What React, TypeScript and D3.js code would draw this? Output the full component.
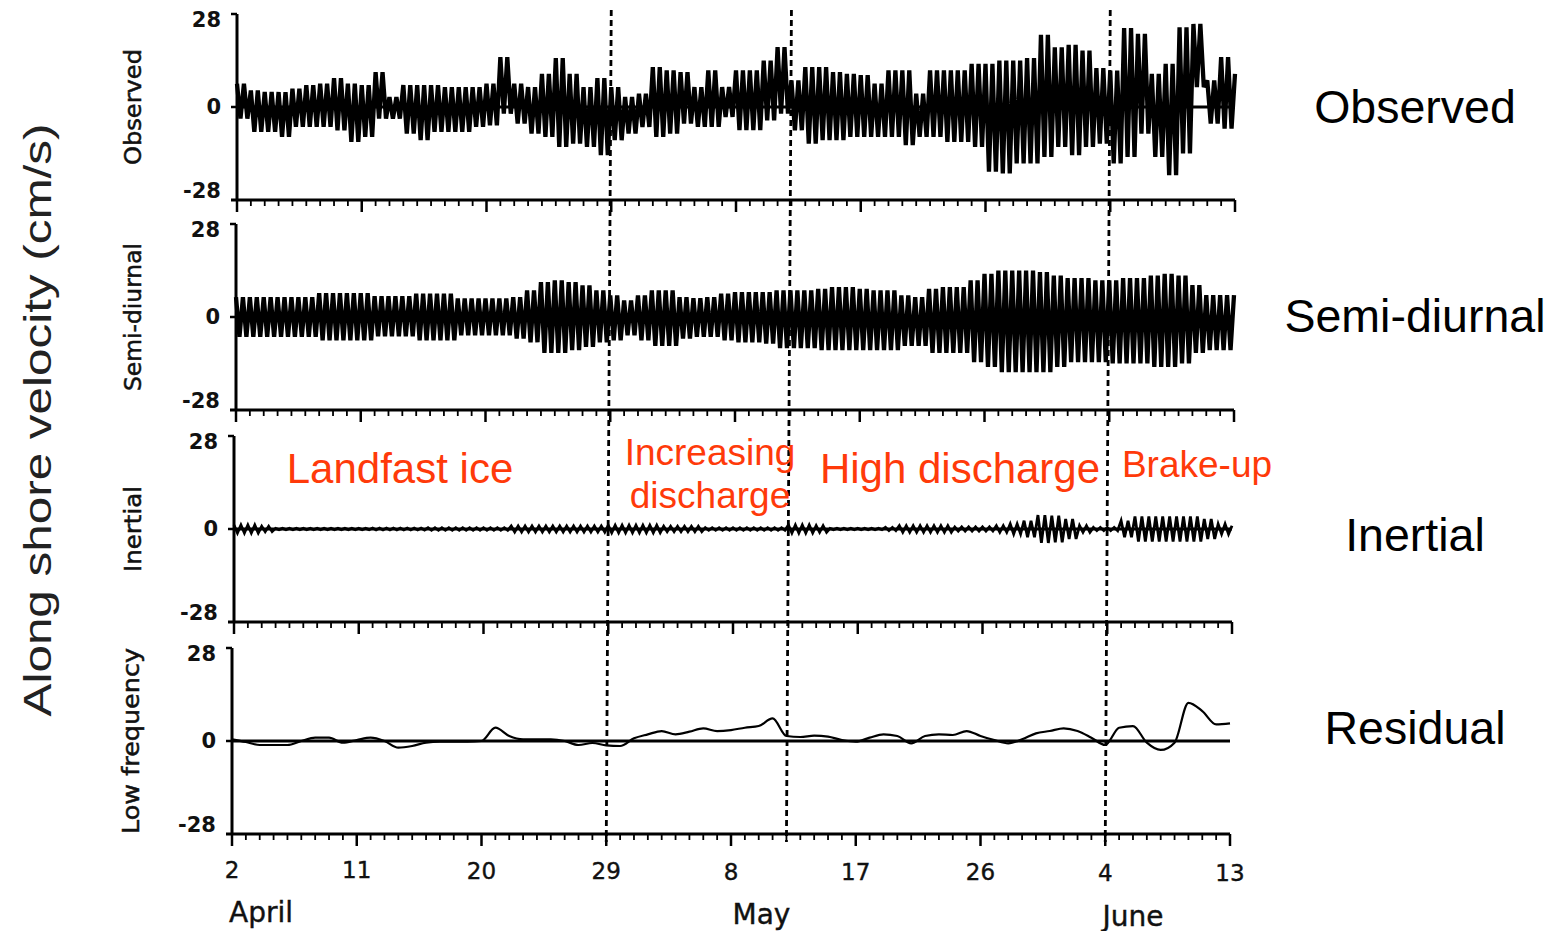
import React from 'react';
import * as d3 from 'd3';

// Days since April 2 (0 = Apr 2, 72 = Jun 13)
const days = d3.range(0, 73);
const tickDays = [0, 9, 18, 27, 36, 45, 54, 63, 72];
const tickLabels = ['2', '11', '20', '29', '8', '17', '26', '4', '13'];
const monthNames = ['April', 'May', 'June'];
const monthDays = [2.1, 38.2, 65];
const phaseBounds = [27, 40, 63];

// Observed: daily max / min of the tidal strokes (cm/s)
const observedHigh = [7, 5, 4.5, 4.5, 5.5, 6.6, 7, 8.7, 7, 6.6, 10.5, 3, 6.6, 6.6, 6.6, 6, 6, 6, 7, 15,
  7, 6, 10, 14.7, 10, 6, 8.7, 6, 3, 4, 12, 11, 10.5, 6, 11, 6, 11, 11, 14, 18,
  8, 12, 12, 10.5, 10, 9.6, 7, 11, 11, 4, 11, 11, 11, 13, 13, 14, 14, 14.7, 21.7, 18,
  18.7, 17, 11.7, 11, 23.8, 22, 10, 13, 24, 25, 8, 15, 10];
const observedLow = [-3.5, -7.5, -7.5, -9, -6, -6, -6, -7, -10.5, -9, -3.5, -3.5, -8, -10, -7.5, -7.5, -7.5, -6, -5.5, -2,
  -5, -8, -9, -12, -11, -12, -14.5, -10, -8, -6, -9, -8, -5, -6, -6, -3, -7, -7, -4, -2,
  -7, -11, -10, -10, -9, -9, -9, -9, -11.5, -9, -9, -10.5, -10.5, -12, -19.5, -20, -17, -17, -15, -12,
  -14.5, -12, -11, -17, -15, -8, -15, -20.5, -14, 6, -5, -6.5, -2];

// Semi-diurnal envelope
const semiHigh = [6, 6, 6, 6, 6, 6, 7.2, 7.2, 7.2, 7.2, 6.3, 6.3, 6.3, 7, 7, 7, 5.6, 5.6, 5.6, 5.6,
  6, 8, 10.5, 11, 10.5, 9.5, 8, 6.5, 5, 6.5, 8, 8, 6, 5.7, 6, 7, 7.5, 7.5, 7.5, 8,
  8, 8, 8.5, 9, 9, 8.5, 8, 8, 6.5, 6, 8.5, 9, 9, 11, 13, 14, 14, 14, 13.5, 12.5,
  11.7, 11.7, 11, 11, 11.7, 11.7, 12.5, 13, 12.5, 9.6, 6.6, 6.6, 6.6];
const semiLow = [-6, -6, -6, -6, -6, -6, -7, -7, -7, -7, -5.8, -5.8, -5.8, -7, -7, -7, -5.5, -5.5, -5.5, -5.5,
  -6.5, -7.6, -10.8, -10.8, -10, -9, -7.6, -7, -5.5, -7, -8.7, -8.7, -6.5, -6, -6, -7, -7.6, -7.6, -8, -9.4,
  -9.4, -9.4, -10, -10, -10, -10, -10, -10, -8.7, -8.7, -10.8, -10.8, -10.8, -13.6, -15, -16.6, -16.6, -16.6, -16.6, -15,
  -13.6, -13.6, -13.6, -14, -14, -14, -15, -15, -14, -10.8, -10, -10, -10];

// Inertial envelope (amplitude)
const inertialAmp = [1.2, 1.2, 0.8, 0.2, 0.2, 0.2, 0.2, 0.2, 0.2, 0.2, 0.3, 0.3, 0.3, 0.3, 0.4, 0.4, 0.4, 0.4, 0.4, 0.4,
  0.9, 0.9, 0.9, 0.9, 0.9, 0.9, 0.9, 1.1, 1.1, 1.1, 1.1, 0.8, 0.8, 0.8, 0.4, 0.4, 0.4, 0.4, 0.4, 0.4,
  1.2, 1.2, 1.0, 0.2, 0.2, 0.2, 0.2, 0.5, 1.0, 1.0, 1.0, 1.0, 0.6, 0.6, 0.6, 1.0, 1.5, 2.5, 4.2, 4.0,
  3.0, 1.0, 0.5, 0.5, 2.5, 3.8, 3.8, 3.8, 3.8, 3.8, 3.0, 1.5, 1.0];

// Low-frequency residual
const residual = [0.5, -0.3, -1.2, -1.2, -1.2, 0, 1, 1, -0.5, 0.3, 1, 0, -2, -1.5, -0.5, -0.2, -0.2, -0.2, 0, 4,
  1.5, 0.5, 0.5, 0.5, 0, -1.2, -0.6, -1.3, -1.5, 0.8, 2, 3, 2, 2.8, 3.8, 3, 3.3, 4, 4.5, 6.8,
  1.5, 1.2, 1.6, 1.3, 0.3, -0.2, 1, 2, 1.5, -0.7, 1.5, 2, 1.8, 3, 1.5, 0.3, -0.7, 0.5, 2.3, 3,
  3.8, 3, 1, -1.2, 4, 4.5, -0.5, -2.7, -0.5, 11.5, 9, 5, 5.3];

const yTickValues = [28, 0, -28];
const panelNames = ['Observed', 'Semi-diurnal', 'Inertial', 'Low  frequency'];
const rightNames = ['Observed', 'Semi-diurnal', 'Inertial', 'Residual'];

const PW = 998;
const PH = 186;
const layout = [
  { top: 14, left: 237 },
  { top: 224, left: 236 },
  { top: 436, left: 234 },
  { top: 648, left: 232 },
];
const nameLen = [116, 148, 86, 186];
const nameX = [133, 133, 133, 131];
const rightBaseline = [123, 332, 551, 744];

const RED = '#ff3a0a';

function tidePoints(hi: number[], lo: number[]): [number, number][] {
  const pts: [number, number][] = [];
  for (let i = 0; i < hi.length - 1; i++) {
    pts.push([i, hi[i]], [i + 0.25, lo[i]], [i + 0.5, hi[i]], [i + 0.75, lo[i]]);
  }
  pts.push([hi.length - 1, hi[hi.length - 1]]);
  return pts;
}

export default function App() {
  const xs = layout.map(p => d3.scaleLinear().domain([0, 72]).range([p.left, p.left + PW]));
  const ys = layout.map(p => d3.scaleLinear().domain([-28, 28]).range([p.top + PH, p.top]));

  const mkLine = (i: number) =>
    d3.line<[number, number]>().x(d => xs[i](d[0])).y(d => ys[i](d[1]));

  const obsPath = mkLine(0)(tidePoints(observedHigh, observedLow)) || '';
  const semiPath = mkLine(1)(tidePoints(semiHigh, semiLow)) || '';
  const inPath = mkLine(2)(tidePoints(inertialAmp, inertialAmp.map(v => -v))) || '';
  const resPath = d3.line<number>()
    .x((_, i) => xs[3](days[i]))
    .y(d => ys[3](d))
    .curve(d3.curveMonotoneX)(residual) || '';

  const axisFont = '"DejaVu Sans", sans-serif';
  const arial = '"Liberation Sans", Arial, sans-serif';

  return (
    <svg width={1560} height={931} viewBox="0 0 1560 931"
      style={{ position: 'absolute', left: 0, top: 0, background: '#fff' }}>
      <rect x={0} y={0} width={1560} height={931} fill="#fff" />

      {/* big left label */}
      <text transform="translate(38,420) rotate(-90)" textAnchor="middle" dominantBaseline="central"
        fontFamily={arial} fontSize={38} fill="#222" textLength={593} lengthAdjust="spacingAndGlyphs">
        Along shore velocity (cm/s)
      </text>

      {/* series */}
      <path d={obsPath} fill="none" stroke="#000" strokeWidth={4.3} strokeLinejoin="bevel" />
      <path d={semiPath} fill="none" stroke="#000" strokeWidth={4.3} strokeLinejoin="bevel" />
      <path d={inPath} fill="none" stroke="#000" strokeWidth={2.8} />
      <path d={resPath} fill="none" stroke="#000" strokeWidth={2.2} />

      {layout.map((p, i) => {
        const x = xs[i];
        const y = ys[i];
        const bottom = p.top + PH;
        return (
          <g key={i}>
            {/* zero line */}
            <line x1={x(0)} x2={x(72)} y1={y(0)} y2={y(0)} stroke="#000" strokeWidth={3} />
            {/* y axis */}
            <line x1={x(0)} x2={x(0)} y1={p.top} y2={bottom} stroke="#000" strokeWidth={3} />
            {[28, 0].map(v => (
              <line key={v} x1={x(0) - 6} x2={x(0)} y1={y(v)} y2={y(v)} stroke="#000" strokeWidth={2.5} />
            ))}
            {/* x axis */}
            <line x1={x(0) - 6} x2={x(72)} y1={bottom} y2={bottom} stroke="#000" strokeWidth={3.2} />
            {days.map(d => {
              const major = tickDays.includes(d);
              return (
                <line key={d} x1={x(d)} x2={x(d)} y1={bottom} y2={bottom + (major ? 12 : 6)}
                  stroke="#000" strokeWidth={major ? 2.5 : 1.8} />
              );
            })}
            {/* y tick labels */}
            {yTickValues.map(v => (
              <text key={v} x={x(0) - 16} y={v === 28 ? y(v) + 6 : v === -28 ? y(v) - 9 : y(v)}
                textAnchor="end" dominantBaseline="central" fontFamily={axisFont}
                fontWeight="bold" fontSize={21} fill="#111">{v}</text>
            ))}
            {/* panel name */}
            <text transform={`translate(${nameX[i]},${y(0)}) rotate(-90)`} textAnchor="middle"
              dominantBaseline="central" fontFamily={axisFont} fontSize={23} fontWeight="500" fill="#111"
              stroke="#111" strokeWidth={0.5}
              textLength={nameLen[i]} lengthAdjust="spacingAndGlyphs">{panelNames[i]}</text>
            {/* right label */}
            <text x={1415} y={rightBaseline[i]} textAnchor="middle" fontFamily={arial}
              fontSize={46.5} fill="#000">{rightNames[i]}</text>
          </g>
        );
      })}

      {/* phase boundaries */}
      {phaseBounds.map(d => (
        <line key={d} x1={xs[0](d)} y1={10} x2={xs[3](d)} y2={842}
          stroke="#000" strokeWidth={2.8} strokeDasharray="6 4" />
      ))}

      {/* x tick labels */}
      {tickDays.map((d, k) => (
        <text key={d} x={xs[3](d)} y={870 + k * 0.4} textAnchor="middle" dominantBaseline="central"
          fontFamily={axisFont} fontSize={23} fill="#111" stroke="#111" strokeWidth={0.4}>{tickLabels[k]}</text>
      ))}
      {monthNames.map((m, k) => (
        <text key={m} x={xs[3](monthDays[k])} y={912 + k * 2} textAnchor="middle" dominantBaseline="central"
          fontFamily={axisFont} fontSize={28} fill="#111" stroke="#111" strokeWidth={0.4}>{m}</text>
      ))}

      {/* phase annotations */}
      <g fontFamily={arial} fill={RED} textAnchor="middle">
        <text x={400} y={483} fontSize={42}>Landfast ice</text>
        <text x={710} y={465} fontSize={37}>Increasing</text>
        <text x={710} y={508} fontSize={37}>discharge</text>
        <text x={960} y={483} fontSize={42}>High discharge</text>
        <text x={1197} y={477} fontSize={37}>Brake-up</text>
      </g>
    </svg>
  );
}
